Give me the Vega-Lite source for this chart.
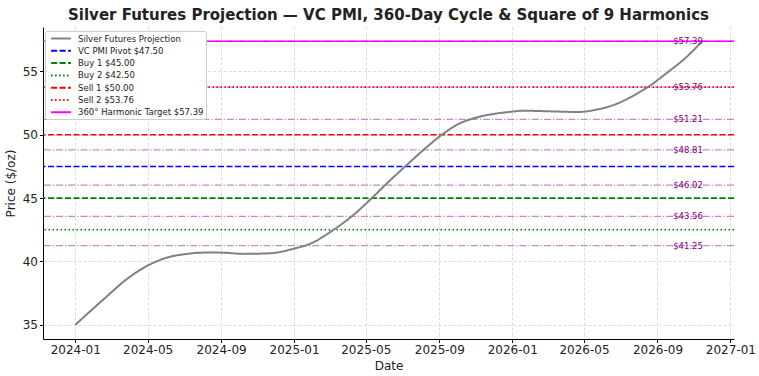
{
  "$schema": "https://vega.github.io/schema/vega-lite/v6.json",
  "autosize": {"type": "none"},
  "width": 691,
  "height": 312,
  "padding": {"left": 43, "top": 27, "right": 25, "bottom": 37},
  "background": "white",
  "title": {
    "text": "Silver Futures Projection — VC PMI, 360-Day Cycle & Square of 9 Harmonics",
    "font": "DejaVu Sans",
    "fontSize": 15,
    "fontWeight": "bold",
    "color": "#222222",
    "anchor": "middle",
    "offset": 4
  },
  "config": {
    "font": "DejaVu Sans",
    "view": {"stroke": null},
    "axis": {
      "domainColor": "#000000",
      "tickColor": "#000000",
      "tickSize": 3.5,
      "labelFont": "DejaVu Sans",
      "titleFont": "DejaVu Sans",
      "labelColor": "#222222",
      "titleColor": "#222222",
      "titleFontWeight": "normal",
      "labelFontSize": 12,
      "titleFontSize": 12,
      "gridColor": "#cccccc",
      "gridDash": [3, 2],
      "gridWidth": 0.7
    },
    "axisX": {
      "labelExpr": "utcFormat(datum.value, '%Y-%m')",
      "labelPadding": 2,
      "titlePadding": 5,
      "grid": true
    },
    "legend": {
      "labelFont": "DejaVu Sans",
      "labelFontSize": 8.5,
      "labelColor": "#222222"
    }
  },
  "datasets": {
    "price": [
      {"date": "2024-01-01", "price": 35.0},
      {"date": "2024-02-17", "price": 37.0},
      {"date": "2024-03-27", "price": 38.6},
      {"date": "2024-04-30", "price": 39.65},
      {"date": "2024-06-02", "price": 40.3},
      {"date": "2024-07-06", "price": 40.6},
      {"date": "2024-08-03", "price": 40.7},
      {"date": "2024-08-31", "price": 40.7},
      {"date": "2024-10-09", "price": 40.6},
      {"date": "2024-11-22", "price": 40.65},
      {"date": "2024-12-31", "price": 41.0},
      {"date": "2025-01-28", "price": 41.4},
      {"date": "2025-03-08", "price": 42.5},
      {"date": "2025-04-11", "price": 43.7},
      {"date": "2025-05-11", "price": 45.0},
      {"date": "2025-06-06", "price": 46.2},
      {"date": "2025-07-06", "price": 47.5},
      {"date": "2025-08-09", "price": 48.95},
      {"date": "2025-09-08", "price": 50.1},
      {"date": "2025-10-01", "price": 50.8},
      {"date": "2025-10-28", "price": 51.3},
      {"date": "2025-11-25", "price": 51.6},
      {"date": "2025-12-26", "price": 51.8},
      {"date": "2026-01-20", "price": 51.9},
      {"date": "2026-03-06", "price": 51.85},
      {"date": "2026-04-20", "price": 51.8},
      {"date": "2026-05-23", "price": 52.0},
      {"date": "2026-06-25", "price": 52.45},
      {"date": "2026-07-23", "price": 53.1},
      {"date": "2026-08-20", "price": 53.9},
      {"date": "2026-09-17", "price": 54.9},
      {"date": "2026-10-15", "price": 55.95},
      {"date": "2026-11-15", "price": 57.39}
    ],
    "levels": [
      {"series": "VC PMI Pivot $47.50", "price": 47.5},
      {"series": "Buy 1 $45.00", "price": 45.0},
      {"series": "Buy 2 $42.50", "price": 42.5},
      {"series": "Sell 1 $50.00", "price": 50.0},
      {"series": "Sell 2 $53.76", "price": 53.76},
      {"series": "360° Harmonic Target $57.39", "price": 57.39}
    ],
    "harmonics": [
      {"level": 41.25, "label": "$41.25"},
      {"level": 43.56, "label": "$43.56"},
      {"level": 46.02, "label": "$46.02"},
      {"level": 48.81, "label": "$48.81"},
      {"level": 51.21, "label": "$51.21"},
      {"level": 53.76, "label": "$53.76"},
      {"level": 57.39, "label": "$57.39"}
    ]
  },
  "encoding": {
    "y": {
      "type": "quantitative",
      "scale": {"domain": [33.88, 58.51], "nice": false, "zero": false},
      "axis": {"title": "Price ($/oz)", "values": [35, 40, 45, 50, 55], "grid": true, "titlePadding": 5}
    }
  },
  "layer": [
    {
      "data": {"name": "harmonics"},
      "mark": {"type": "rule", "color": "#cc86d0", "strokeWidth": 1.2, "strokeDash": [7, 2, 1.2, 2]},
      "encoding": {"y": {"field": "level"}}
    },
    {
      "data": {"name": "levels"},
      "mark": {"type": "rule", "strokeWidth": 1.6},
      "encoding": {
        "y": {"field": "price"},
        "color": {"field": "series", "type": "nominal"},
        "strokeDash": {"field": "series", "type": "nominal"}
      }
    },
    {
      "data": {"name": "price"},
      "transform": [{"calculate": "'Silver Futures Projection'", "as": "series"}],
      "mark": {"type": "line", "strokeWidth": 2, "interpolate": "monotone"},
      "encoding": {
        "x": {
          "field": "date",
          "type": "temporal",
          "scale": {
            "type": "utc",
            "domain": [
              {"year": 2023, "month": 11, "date": 8, "utc": true},
              {"year": 2027, "month": 1, "date": 7, "utc": true}
            ],
            "nice": false
          },
          "axis": {
            "title": "Date",
            "values": [
              {"year": 2024, "month": 1, "date": 1, "utc": true},
              {"year": 2024, "month": 5, "date": 1, "utc": true},
              {"year": 2024, "month": 9, "date": 1, "utc": true},
              {"year": 2025, "month": 1, "date": 1, "utc": true},
              {"year": 2025, "month": 5, "date": 1, "utc": true},
              {"year": 2025, "month": 9, "date": 1, "utc": true},
              {"year": 2026, "month": 1, "date": 1, "utc": true},
              {"year": 2026, "month": 5, "date": 1, "utc": true},
              {"year": 2026, "month": 9, "date": 1, "utc": true},
              {"year": 2027, "month": 1, "date": 1, "utc": true}
            ]
          }
        },
        "y": {"field": "price"},
        "color": {
          "field": "series",
          "type": "nominal",
          "scale": {
            "domain": ["Silver Futures Projection", "VC PMI Pivot $47.50", "Buy 1 $45.00", "Buy 2 $42.50", "Sell 1 $50.00", "Sell 2 $53.76", "360° Harmonic Target $57.39"],
            "range": ["#808080", "#0000ff", "#008000", "#008000", "#ff0000", "#ff0000", "#ff00ff"]
          },
          "legend": {
            "title": null,
            "orient": "none",
            "legendX": 2,
            "legendY": 4,
            "fillColor": "white",
            "strokeColor": "#cccccc",
            "cornerRadius": 2,
            "padding": 2,
            "symbolType": "M-2.2,0H2.2",
            "symbolSize": 81,
            "symbolOffset": 8.5,
            "symbolStrokeWidth": 2,
            "rowPadding": 2.3,
            "labelOffset": 11.5
          }
        },
        "strokeDash": {
          "field": "series",
          "type": "nominal",
          "scale": {
            "domain": ["Silver Futures Projection", "VC PMI Pivot $47.50", "Buy 1 $45.00", "Buy 2 $42.50", "Sell 1 $50.00", "Sell 2 $53.76", "360° Harmonic Target $57.39"],
            "range": [[1, 0], [6, 2.5], [6, 2.5], [1.5, 2.5], [6, 2.5], [1.5, 2.5], [1, 0]]
          },
          "legend": {"title": null}
        }
      }
    },
    {
      "data": {"name": "harmonics"},
      "mark": {"type": "text", "color": "#800080", "fontSize": 8.5, "align": "right", "baseline": "middle", "font": "DejaVu Sans"},
      "encoding": {
        "x": {"datum": {"year": 2026, "month": 11, "date": 16, "utc": true}, "type": "temporal"},
        "y": {"field": "level"},
        "text": {"field": "label"}
      }
    }
  ]
}
